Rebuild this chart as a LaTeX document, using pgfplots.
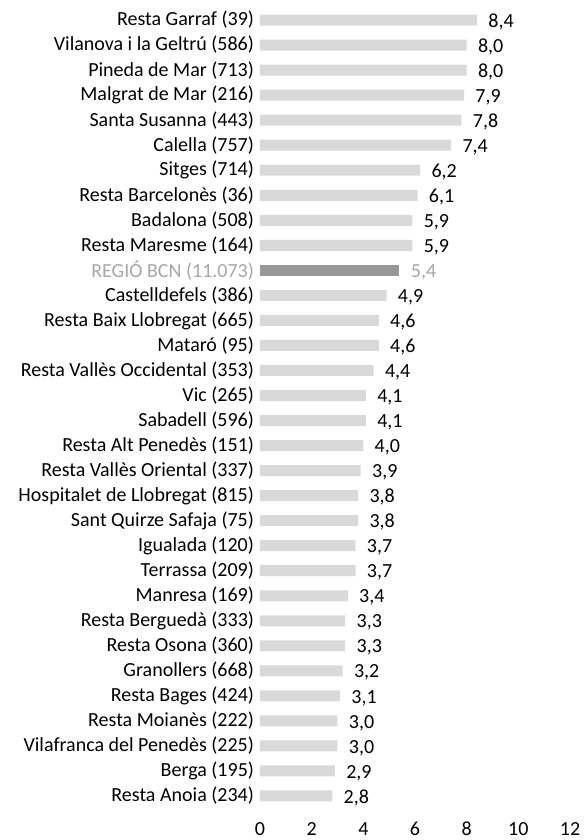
\documentclass[border=0pt]{standalone}
\usepackage{fontspec}
\setmainfont{Carlito}
\usepackage{pgfplots}
\pgfplotsset{compat=1.18}
\definecolor{barlight}{HTML}{D9D9D9}
\definecolor{bardark}{HTML}{979797}
\definecolor{labgrey}{HTML}{A6A6A6}
\begin{document}
\begin{tikzpicture}
\path[use as bounding box] (-195pt,0pt) rectangle (243pt,-630pt);
\begin{axis}[
  at={(0pt,0pt)}, anchor=north west,
  scale only axis,
  width=232.5pt, height=612pt,
  xmin=0, xmax=12, ymin=-0.8, ymax=31.8,
  y dir=reverse,
  axis line style={draw=none},
  major tick length=0pt,
  xtick={0,2,...,12},
  ytick={0,...,31},
  yticklabels={{Resta Garraf (39)},{Vilanova i la Geltrú (586)},{Pineda de Mar (713)},{Malgrat de Mar (216)},{Santa Susanna (443)},{Calella (757)},{Sitges (714)},{Resta Barcelonès (36)},{Badalona (508)},{Resta Maresme (164)},{\textcolor{labgrey}{REGIÓ BCN (11.073)}},{Castelldefels (386)},{Resta Baix Llobregat (665)},{Mataró (95)},{Resta Vallès Occidental (353)},{Vic (265)},{Sabadell (596)},{Resta Alt Penedès (151)},{Resta Vallès Oriental (337)},{Hospitalet de Llobregat (815)},{Sant Quirze Safaja (75)},{Igualada (120)},{Terrassa (209)},{Manresa (169)},{Resta Berguedà (333)},{Resta Osona (360)},{Granollers (668)},{Resta Bages (424)},{Resta Moianès (222)},{Vilafranca del Penedès (225)},{Berga (195)},{Resta Anoia (234)}},
  tick label style={font=\fontsize{15}{17}\selectfont, text=black},
  yticklabel style={xshift=-1pt},
  xticklabel style={text height=1.6ex, text depth=0.3ex, anchor=north, yshift=-3.5pt},
  /pgf/number format/assume math mode=true,
  xbar, bar width=8.25pt, bar shift=0pt,
  nodes near coords,
  point meta=x,
  nodes near coords style={font=\fontsize{15}{17}\selectfont, anchor=west, xshift=5pt, yshift=-2.5pt,
    text height=1.6ex, text depth=0.4ex,
    /pgf/number format/use comma, /pgf/number format/fixed, /pgf/number format/fixed zerofill, /pgf/number format/precision=1, /pgf/number format/assume math mode=true},
  clip=false,
]
\addplot[fill=barlight, draw=none] coordinates {
(8.4,0) (8.0,1) (8.0,2) (7.9,3) (7.8,4) (7.4,5) (6.2,6) (6.1,7) (5.9,8) (5.9,9)
(4.9,11) (4.6,12) (4.6,13) (4.4,14) (4.1,15) (4.1,16) (4.0,17) (3.9,18) (3.8,19) (3.8,20)
(3.7,21) (3.7,22) (3.4,23) (3.3,24) (3.3,25) (3.2,26) (3.1,27) (3.0,28) (3.0,29) (2.9,30) (2.8,31)
};
\addplot[fill=bardark, draw=none, nodes near coords style={text=labgrey}] coordinates {
(5.4,10)
};
\end{axis}
\end{tikzpicture}
\end{document}
